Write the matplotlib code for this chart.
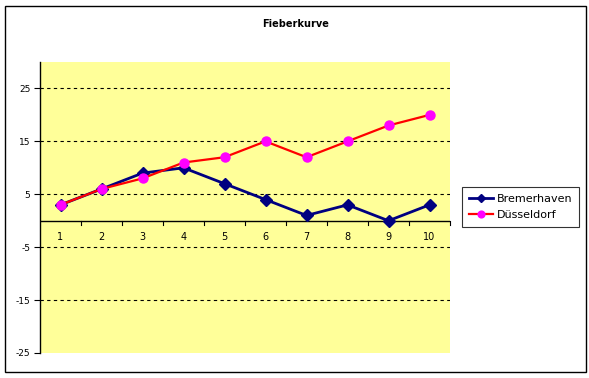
import matplotlib.pyplot as plt
from matplotlib.patches import Rectangle

tage = [1, 2, 3, 4, 5, 6, 7, 8, 9, 10]
bremerhaven = [3, 6, 9, 10, 7, 4, 1, 3, 0, 3]
duesseldorf = [3, 6, 8, 11, 12, 15, 12, 15, 18, 20]
y_ticks = [-25, -15, -5, 5, 15, 25]

plt.rcParams['font.family'] = ['DejaVu Sans']

fig = plt.figure(figsize=(5.89, 3.78), dpi=100)
W, H = 589, 378

# outer chart border
fig.patches.append(Rectangle((5 / W, 6 / H), 581 / W, 366 / H, transform=fig.transFigure,
                             fill=False, edgecolor='black', linewidth=1.0))

ax = fig.add_axes([40 / W, (H - 353) / H, 410 / W, (353 - 62) / H])
ax.set_facecolor('#FFFF99')

ax.plot(tage, bremerhaven, color='#000080', linewidth=2, marker='D', markersize=6,
        label='Bremerhaven')
ax.plot(tage, duesseldorf, color='#FF0000', linewidth=1.6, marker='o', markersize=6.5,
        markerfacecolor='#FF00FF', markeredgecolor='#FF00FF', label='Düsseldorf')

ax.set_xlim(0.5, 10.5)
ax.set_ylim(-25, 30)
ax.set_yticks(y_ticks)
ax.set_yticklabels([str(v) for v in y_ticks], fontsize=6.5)
for v in y_ticks[1:]:
    ax.axhline(v, color='black', linestyle=(0, (3, 3)), linewidth=0.8, zorder=0)

for s in ['top', 'right', 'bottom']:
    ax.spines[s].set_visible(False)
ax.spines['left'].set_linewidth(1.0)
ax.tick_params(axis='y', length=4, width=0.8, pad=3)

# category axis at y = 0
ax.axhline(0, color='black', linewidth=1.0, zorder=1)
ax.set_xticks([])
for b in range(1, 11):
    ax.plot([b + 0.5, b + 0.5], [0, -0.8], color='black', linewidth=0.8, clip_on=False)
for t in tage:
    ax.text(t, -2.2, str(t), ha='center', va='top', fontsize=7)

fig.text(296 / W, 1 - 24 / H, 'Fieberkurve', ha='center', va='center', fontsize=7,
         fontweight='bold')

leg = ax.legend(loc='center left', bbox_to_anchor=(462 / W, 1 - 207 / H),
                bbox_transform=fig.transFigure, fontsize=8, frameon=True, fancybox=False,
                borderpad=0.6, handlelength=2.2, handletextpad=0.3, labelspacing=0.55,
                borderaxespad=0, markerscale=0.75)
leg.get_frame().set_edgecolor('black')
leg.get_frame().set_linewidth(0.8)

fig.savefig('out.png', dpi=100)
